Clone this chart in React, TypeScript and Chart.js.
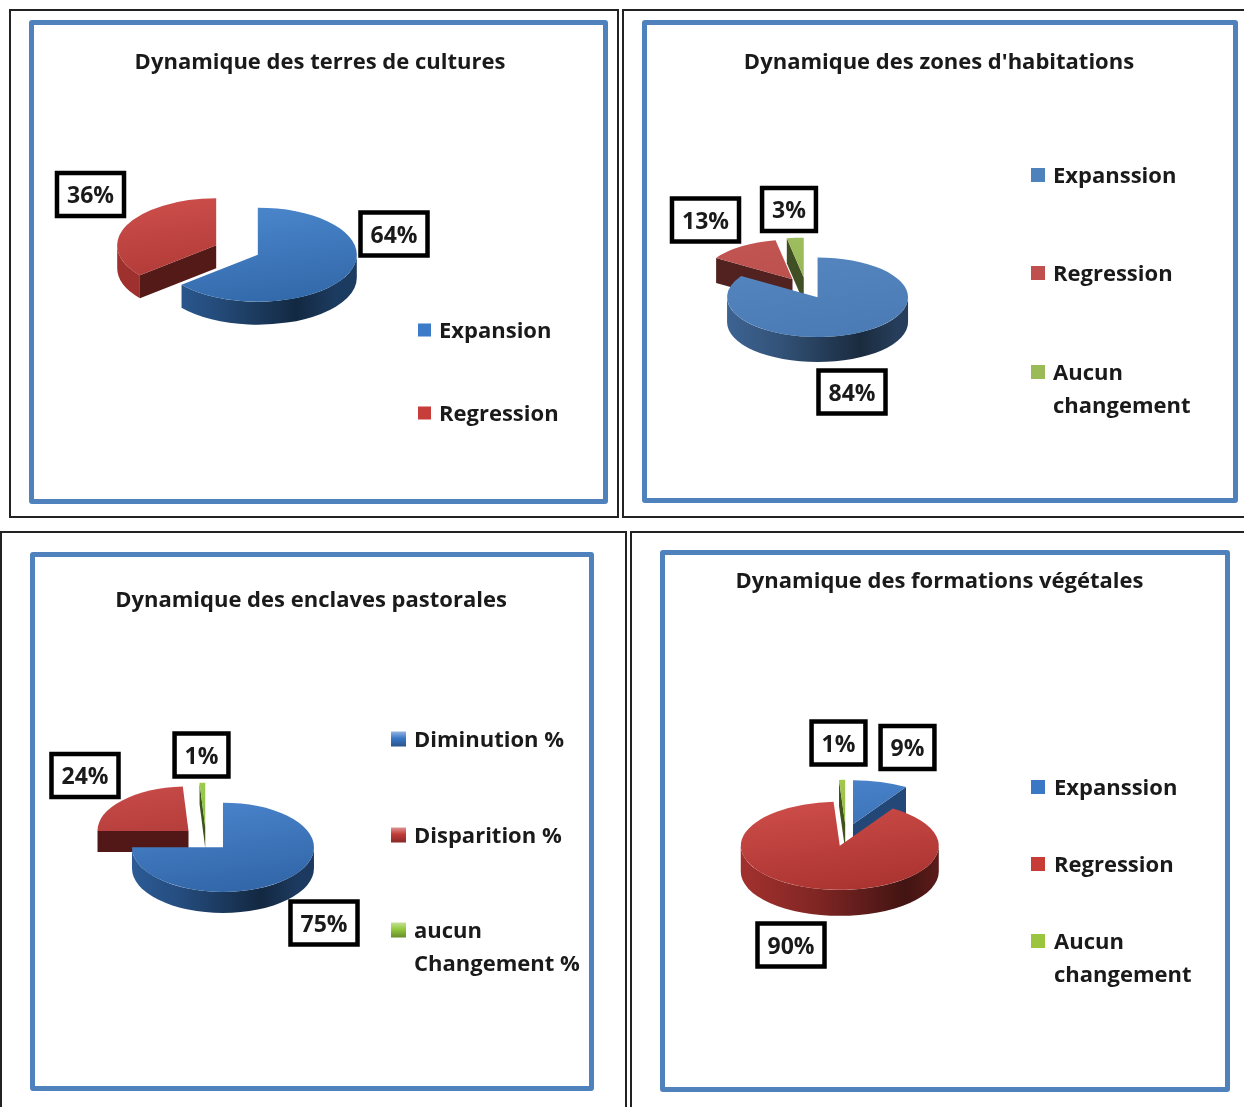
import React, { useEffect, useRef } from "react";
import { Chart, registerables } from "chart.js";

Chart.register(...registerables);

const W = 1244;
const H = 1107;

// ---------------- data ----------------
const culturesTitle = "Dynamique des terres de cultures";
const culturesLabels = ["Expansion", "Regression"];
const culturesValues = [64, 36];

const habitationsTitle = "Dynamique des zones d'habitations";
const habitationsLabels = ["Expanssion", "Regression", "Aucun\nchangement"];
const habitationsValues = [84, 13, 3];

const pastoralesTitle = "Dynamique des enclaves pastorales";
const pastoralesLabels = ["Diminution %", "Disparition %", "aucun\nChangement %"];
const pastoralesValues = [75, 24, 1];

const vegetalesTitle = "Dynamique des formations végétales";
const vegetalesLabels = ["Expanssion", "Regression", "Aucun\nchangement"];
const vegetalesValues = [9, 90, 1];

// ---------------- layout / style ----------------
type Cfg = {
  title: string;
  labels: string[];
  values: number[];
  colors: string[];
  black: number[];
  blue: number[];
  center: number[];
  radius: number;
  squash: number;
  depth: number;
  explode: number;
  titlePos: number[];
  labelOffsets: number[][];
  legend: { sq: number; size: number; tx: number; ys: number[] };
  bevel: boolean;
  topShade: number[];
};

const FONT = "'Open Sans', Lato, sans-serif";
const TITLE_FONT = `bold 22px ${FONT}`;
const LEGEND_FONT = `bold 22px ${FONT}`;
const LABEL_FONT = `bold 23px ${FONT}`;
const LEGEND_LINE = 33;
const TEXT_DY = 1.5;

const panels: Cfg[] = [
  {
    title: culturesTitle,
    labels: culturesLabels,
    values: culturesValues,
    colors: ["#3b7bc8", "#c63d3a"],
    black: [9, 9, 610, 509],
    blue: [29, 20, 579, 484],
    center: [237, 250],
    radius: 99,
    squash: 0.475,
    depth: 23,
    explode: 23,
    titlePos: [320, 61],
    labelOffsets: [
      [157, -16],
      [-146.5, -55.5],
    ],
    legend: { sq: 418, size: 13, tx: 439, ys: [330, 413] },
    bevel: false,
    topShade: [1.08, 0.85],
  },
  {
    title: habitationsTitle,
    labels: habitationsLabels,
    values: habitationsValues,
    colors: ["#4f81bd", "#c0504d", "#9bbb59"],
    black: [622, 9, 640, 509],
    blue: [642, 20, 596, 483],
    center: [806, 288],
    radius: 90.5,
    squash: 0.44,
    depth: 25,
    explode: 24,
    titlePos: [939, 61],
    labelOffsets: [
      [46, 104],
      [-100.5, -68],
      [-17, -78.5],
    ],
    legend: { sq: 1031, size: 14, tx: 1053, ys: [175, 273, 372] },
    bevel: false,
    topShade: [1.03, 0.95],
  },
  {
    title: pastoralesTitle,
    labels: pastoralesLabels,
    values: pastoralesValues,
    colors: ["#3a78c6", "#c13a37", "#93c83f"],
    black: [0, 531, 627, 600],
    blue: [30, 552, 564, 539],
    center: [206, 839],
    radius: 91,
    squash: 0.49,
    depth: 21,
    explode: 24,
    titlePos: [311, 599],
    labelOffsets: [
      [118, 84],
      [-121, -63.5],
      [-4.5, -84],
    ],
    legend: { sq: 391, size: 15, tx: 414, ys: [739, 835, 930] },
    bevel: true,
    topShade: [1.08, 0.85],
  },
  {
    title: vegetalesTitle,
    labels: vegetalesLabels,
    values: vegetalesValues,
    colors: ["#3a78c6", "#c83c38", "#9bc43f"],
    black: [630, 531, 640, 600],
    blue: [660, 550, 570, 542],
    center: [846, 835],
    radius: 99,
    squash: 0.445,
    depth: 26,
    explode: 25,
    titlePos: [939.5, 580],
    labelOffsets: [
      [61.5, -87.5],
      [-55, 110],
      [-7.5, -92],
    ],
    legend: { sq: 1031, size: 14, tx: 1054, ys: [787, 864, 941] },
    bevel: false,
    topShade: [1.08, 0.85],
  },
];

// ---------------- helpers ----------------
function shade(hex: string, f: number) {
  const n = parseInt(hex.slice(1), 16);
  const r = (n >> 16) & 255,
    g = (n >> 8) & 255,
    b = n & 255;
  const adj = (c: number) =>
    Math.max(0, Math.min(255, Math.round(f <= 1 ? c * f : c + (255 - c) * (f - 1))));
  return `rgb(${adj(r)},${adj(g)},${adj(b)})`;
}

function visibleIntervals(s: number, e: number) {
  const out: number[][] = [];
  for (let n = -1; n <= 2; n++) {
    const lo = Math.max(s, 2 * Math.PI * n);
    const hi = Math.min(e, 2 * Math.PI * n + Math.PI);
    if (hi > lo) out.push([lo, hi]);
  }
  return out;
}

function pie3dPlugin(cfg: Cfg) {
  return {
    id: "pie3d",
    beforeDatasetsDraw(chart: any) {
      const ctx: CanvasRenderingContext2D = chart.ctx;
      const arcs = chart.getDatasetMeta(0).data as any[];
      if (!arcs.length) return false;
      const cx = arcs[0].x,
        cy = arcs[0].y,
        r = arcs[0].outerRadius;
      const k = cfg.squash,
        d = cfg.depth,
        e = cfg.explode;
      const items = arcs
        .map((a, i) => {
          const mid = (a.startAngle + a.endAngle) / 2;
          return { a, i, ux: Math.cos(mid) * e, uy: Math.sin(mid) * e, s: Math.sin(mid) };
        })
        .sort((p, q) => p.s - q.s);
      for (const it of items) {
        const base = cfg.colors[it.i];
        const sx = cx + it.ux,
          sy = cy + it.uy * k;
        // outer rim (side)
        const grad = ctx.createLinearGradient(cx - r, 0, cx + r, 0);
        grad.addColorStop(0, shade(base, 0.8));
        grad.addColorStop(0.35, shade(base, 0.64));
        grad.addColorStop(0.8, shade(base, 0.33));
        grad.addColorStop(1, shade(base, 0.48));
        ctx.fillStyle = grad;
        for (const [a0, b0] of visibleIntervals(it.a.startAngle, it.a.endAngle)) {
          ctx.beginPath();
          ctx.ellipse(sx, sy, r, r * k, 0, a0, b0, false);
          ctx.ellipse(sx, sy + d, r, r * k, 0, b0, a0, true);
          ctx.closePath();
          ctx.fill();
        }
        // radial walls
        const wall = (ang: number, f: number) => {
          const px = sx + r * Math.cos(ang),
            py = sy + r * k * Math.sin(ang);
          ctx.beginPath();
          ctx.moveTo(sx, sy);
          ctx.lineTo(px, py);
          ctx.lineTo(px, py + d);
          ctx.lineTo(sx, sy + d);
          ctx.closePath();
          ctx.fillStyle = shade(base, f);
          ctx.fill();
        };
        if (Math.cos(it.a.startAngle) < -1e-6) wall(it.a.startAngle, 0.42);
        if (Math.cos(it.a.endAngle) > 1e-6) wall(it.a.endAngle, 0.6);
        // top face, drawn by the library's arc element
        ctx.save();
        ctx.translate(cx, cy);
        ctx.scale(1, k);
        ctx.translate(-cx, -cy);
        ctx.translate(it.ux, it.uy);
        it.a.draw(ctx);
        ctx.restore();
      }
      return false;
    },
  };
}

function textPlugin(cfg: Cfg) {
  return {
    id: "pieText",
    afterDraw(chart: any) {
      const ctx: CanvasRenderingContext2D = chart.ctx;
      const arcs = chart.getDatasetMeta(0).data as any[];
      const cx = arcs[0].x,
        cy = arcs[0].y;
      const values = chart.data.datasets[0].data as number[];
      const labels = chart.data.labels as string[];
      ctx.save();
      // title
      ctx.fillStyle = "#1a1a1a";
      ctx.font = TITLE_FONT;
      ctx.textAlign = "center";
      ctx.textBaseline = "middle";
      ctx.fillText(cfg.title, cfg.titlePos[0], cfg.titlePos[1] + TEXT_DY);
      // data labels in boxes
      ctx.font = LABEL_FONT;
      values.forEach((v, i) => {
        const [dx, dy] = cfg.labelOffsets[i];
        const x = cx + dx,
          y = cy + dy;
        const text = `${v}%`;
        const tw = ctx.measureText(text).width;
        const bw = tw + 20,
          bh = 43;
        ctx.fillStyle = "#ffffff";
        ctx.fillRect(x - bw / 2, y - bh / 2, bw, bh);
        ctx.lineWidth = 4.5;
        ctx.strokeStyle = "#000000";
        ctx.strokeRect(x - bw / 2, y - bh / 2, bw, bh);
        ctx.fillStyle = "#1a1a1a";
        ctx.fillText(text, x, y + TEXT_DY + 0.5);
      });
      // legend
      ctx.font = LEGEND_FONT;
      ctx.textAlign = "left";
      const lg = cfg.legend;
      lg.ys.forEach((y, i) => {
        const base = cfg.colors[i];
        const s = lg.size;
        const x0 = lg.sq,
          y0 = y - s / 2;
        if (cfg.bevel) {
          const g = ctx.createLinearGradient(0, y0, 0, y0 + s);
          g.addColorStop(0, shade(base, 1.45));
          g.addColorStop(0.45, base);
          g.addColorStop(1, shade(base, 0.7));
          ctx.fillStyle = g;
          ctx.fillRect(x0, y0, s, s);
        } else {
          ctx.fillStyle = base;
          ctx.fillRect(x0, y0, s, s);
        }
        ctx.fillStyle = "#1a1a1a";
        String(labels[i])
          .split("\n")
          .forEach((ln, j) => ctx.fillText(ln, lg.tx, y + j * LEGEND_LINE + TEXT_DY));
      });
      ctx.restore();
    },
  };
}

function PiePanel({ cfg }: { cfg: Cfg }) {
  const ref = useRef<HTMLCanvasElement>(null);
  useEffect(() => {
    const [cx, cy] = cfg.center;
    const padding = {
      left: Math.max(0, 2 * cx - W),
      right: Math.max(0, W - 2 * cx),
      top: Math.max(0, 2 * cy - H),
      bottom: Math.max(0, H - 2 * cy),
    };
    const chart = new Chart(ref.current as HTMLCanvasElement, {
      type: "pie",
      data: {
        labels: cfg.labels,
        datasets: [
          {
            data: cfg.values,
            radius: cfg.radius,
            borderWidth: 0,
            backgroundColor: (c: any) => {
              const base = cfg.colors[c.dataIndex ?? 0];
              const r = cfg.radius;
              const g = c.chart.ctx.createLinearGradient(cx - r * 0.3, cy - r, cx + r * 0.3, cy + r);
              g.addColorStop(0, shade(base, cfg.topShade[0]));
              g.addColorStop(1, shade(base, cfg.topShade[1]));
              return g;
            },
          } as any,
        ],
      },
      options: {
        responsive: false,
        animation: false,
        devicePixelRatio: 1,
        events: [],
        layout: { padding },
        plugins: {
          legend: { display: false },
          tooltip: { enabled: false },
          title: { display: false },
        },
      },
      plugins: [pie3dPlugin(cfg), textPlugin(cfg)],
    });
    return () => chart.destroy();
  }, [cfg]);
  return (
    <canvas
      ref={ref}
      width={W}
      height={H}
      style={{ position: "absolute", left: 0, top: 0, width: W, height: H }}
    />
  );
}

function Frame({ r, style }: { r: number[]; style: React.CSSProperties }) {
  return (
    <div
      style={{
        position: "absolute",
        left: r[0],
        top: r[1],
        width: r[2],
        height: r[3],
        boxSizing: "border-box",
        ...style,
      }}
    />
  );
}

export default function App() {
  return (
    <div
      style={{
        position: "absolute",
        left: 0,
        top: 0,
        width: W,
        height: H,
        overflow: "hidden",
        background: "#ffffff",
      }}
    >
      {panels.map((p, i) => (
        <React.Fragment key={i}>
          <Frame r={p.black} style={{ border: "2px solid #222" }} />
          <Frame r={p.blue} style={{ border: "5px solid #4f81bd", borderRadius: 3 }} />
        </React.Fragment>
      ))}
      {panels.map((p, i) => (
        <PiePanel key={i} cfg={p} />
      ))}
    </div>
  );
}
